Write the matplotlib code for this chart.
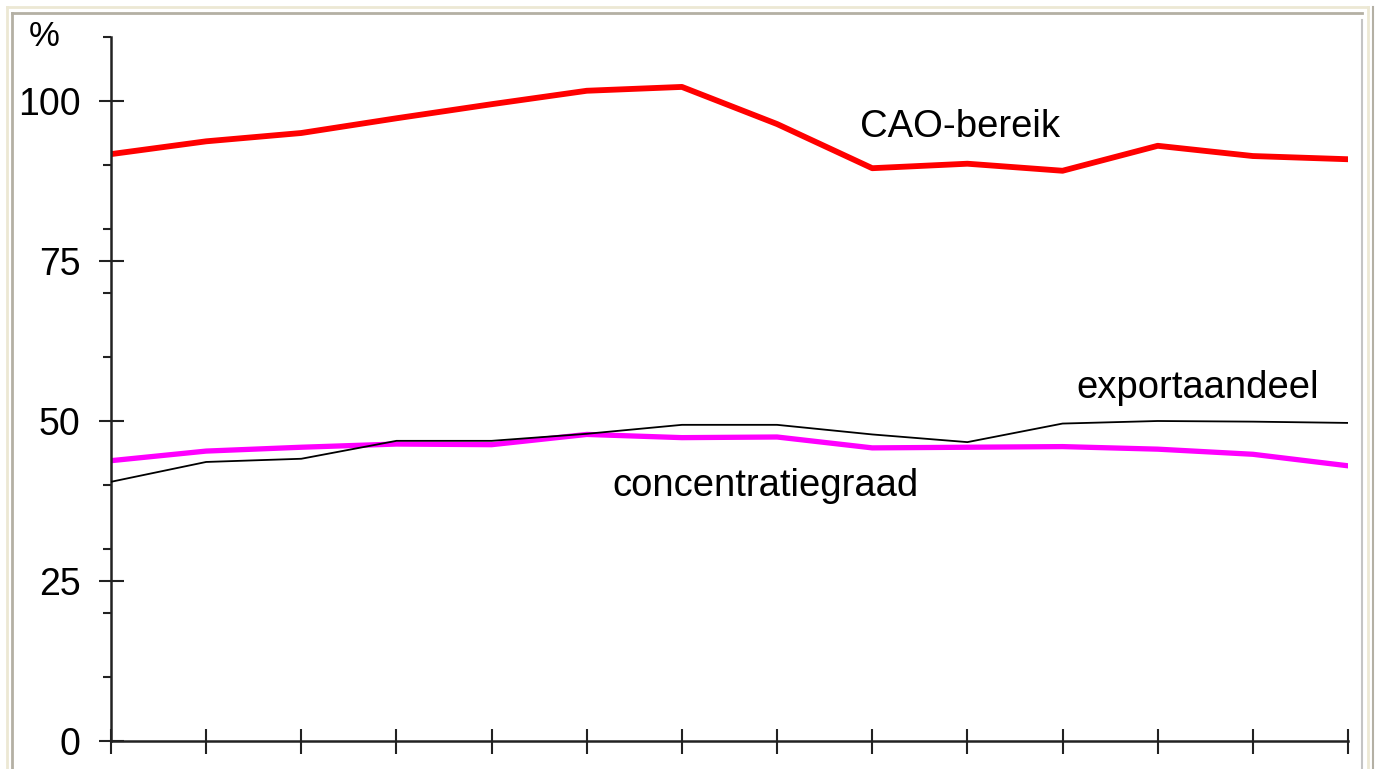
import matplotlib.pyplot as plt
from matplotlib.lines import Line2D
from matplotlib.ticker import MultipleLocator
import numpy as np

plt.rcParams['font.family'] = ['Liberation Sans', 'DejaVu Sans']

# waarden (14 jaren, geen jaartallen op de as)
jaren = np.arange(14)
cao_bereik = [91.7, 93.7, 95.0, 97.3, 99.5, 101.6, 102.2, 96.4, 89.5, 90.2, 89.1, 93.0, 91.4, 90.9]
concentratiegraad = [43.8, 45.3, 45.9, 46.4, 46.3, 47.9, 47.4, 47.5, 45.8, 45.9, 46.0, 45.6, 44.8, 43.0]
exportaandeel = [40.5, 43.6, 44.1, 46.9, 46.9, 48.0, 49.4, 49.4, 47.9, 46.7, 49.6, 50.0, 49.9, 49.7]

W, H = 1378, 769
fig = plt.figure(figsize=(W / 100, H / 100), dpi=100)
fig.patch.set_facecolor('white')
ax = fig.add_axes([111 / W, 1 - 741 / H, (1348 - 111) / W, (741 - 37) / H])

ax.plot(jaren, exportaandeel, color='black', lw=1.3, zorder=3)
ax.plot(jaren, concentratiegraad, color='#ff00ff', lw=3.8, zorder=2)
ax.plot(jaren, cao_bereik, color='#ff0000', lw=4.2, zorder=2)

ax.set_xlim(0, 13)
ax.set_ylim(0, 110)
ax.set_xticks(jaren)
ax.set_xticklabels([])
ax.yaxis.set_major_locator(MultipleLocator(25))
ax.yaxis.set_minor_locator(MultipleLocator(10))
ax.tick_params(axis='x', which='major', direction='inout', length=18, width=1.5, color='#222222')
ax.tick_params(axis='y', which='major', direction='inout', length=18, width=1.5, color='#222222',
               labelsize=27, pad=13)
ax.tick_params(axis='y', which='minor', direction='out', length=6, width=1.5, color='#222222')
for s in ['top', 'right']:
    ax.spines[s].set_visible(False)
for s in ['left', 'bottom']:
    ax.spines[s].set_linewidth(1.8)
    ax.spines[s].set_color('#222222')
ax.set_facecolor('none')

# labels bij de lijnen
ax.text(7.87, 95.9, 'CAO-bereik', fontsize=27.5, va='center', ha='left')
ax.text(10.15, 55.2, 'exportaandeel', fontsize=27.5, va='center', ha='left')
ax.text(5.27, 39.8, 'concentratiegraad', fontsize=27.5, va='center', ha='left')
fig.text(29 / W, 1 - 36 / H, '%', fontsize=25, va='center', ha='left')

# kader rond de grafiek
def lijn(x0, y0, x1, y1, kleur, dikte):
    fig.add_artist(Line2D([x0 / W, x1 / W], [1 - y0 / H, 1 - y1 / H], color=kleur, lw=dikte))

lijn(7, 7, 1368, 7, '#ece8d4', 2)
lijn(7, 7, 7, H, '#ece8d4', 2)
lijn(1368, 7, 1368, H, '#ece8d4', 2)
lijn(12, 13, 1362, 13, '#b4b0a4', 2)
lijn(12, 13, 12, H, '#b4b0a4', 2)
lijn(1362, 20, 1362, H, '#c4c4c4', 1.5)
lijn(1373, 7, 1373, H, '#b4b0a4', 1.5)

fig.savefig('out.png', dpi=100)
